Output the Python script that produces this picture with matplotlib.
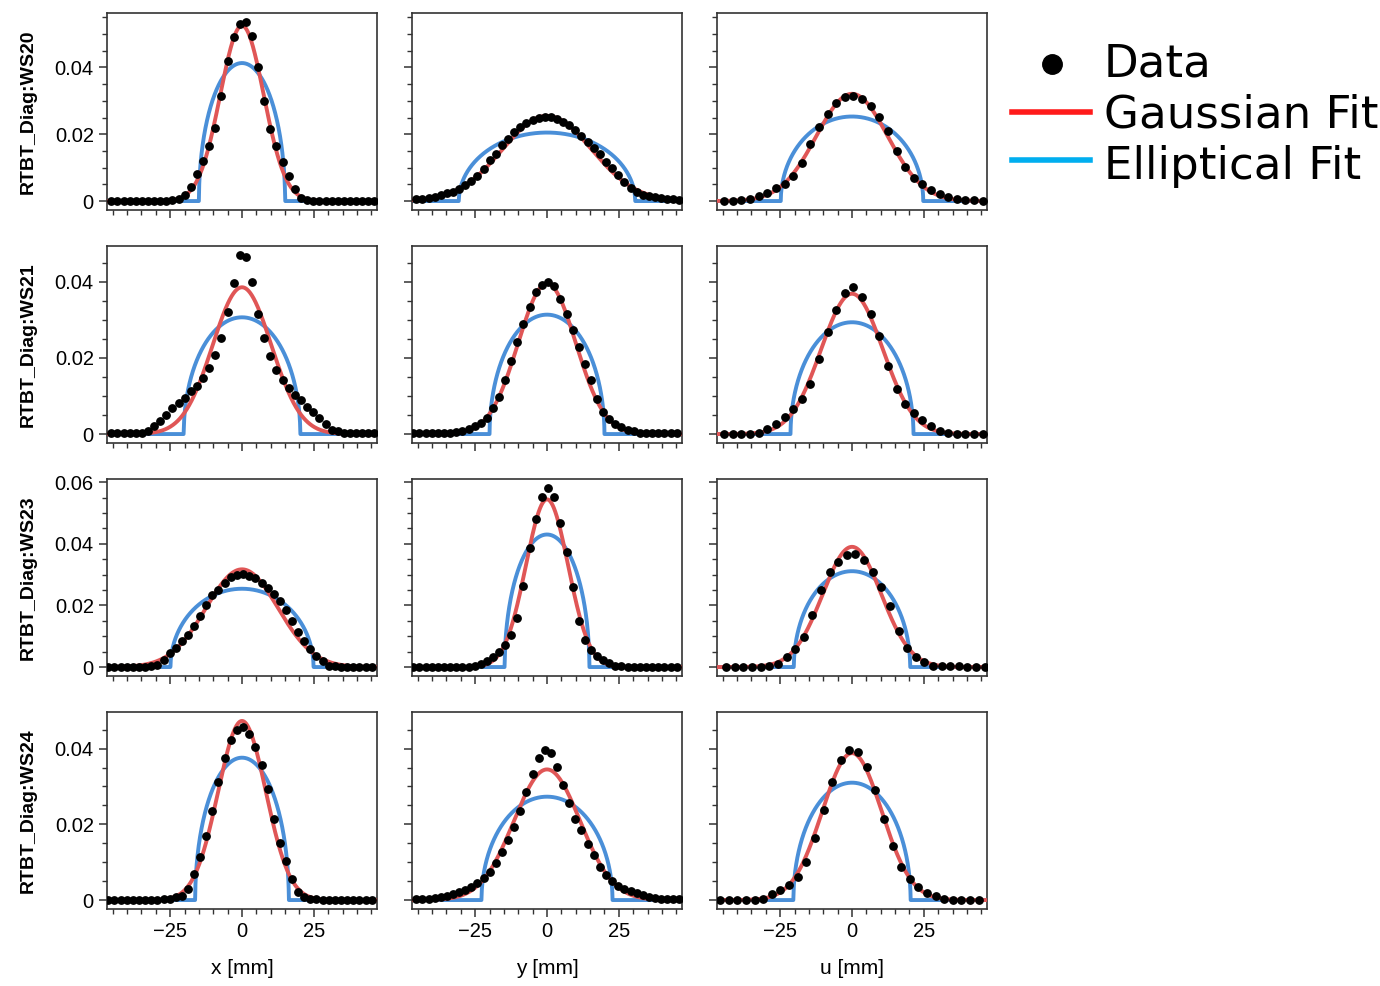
import numpy as np
import matplotlib
matplotlib.use("Agg")
import matplotlib.pyplot as plt
from matplotlib.lines import Line2D
from matplotlib.ticker import MultipleLocator, FuncFormatter

# wire positions [mm] (x/y wires and the diagonal u wire have different steps)
pos_xy_a = [-45.5, -43.4, -41.2, -39.1, -37.0, -34.9, -32.7, -30.6, -28.5, -26.3, -24.2,
            -22.1, -19.9, -17.8, -15.7, -13.6, -11.4, -9.3, -7.2, -5.0, -2.9, -0.8,
            1.4, 3.5, 5.6, 7.8, 9.9, 12.0, 14.1, 16.3, 18.4, 20.5, 22.7, 24.8, 26.9,
            29.1, 31.2, 33.3, 35.4, 37.6, 39.7, 41.8, 44.0, 46.1]
pos_xy_b = [-46.5, -44.4, -42.2, -40.1, -38.0, -35.9, -33.7, -31.6, -29.5, -27.3, -25.2,
            -23.1, -20.9, -18.8, -16.7, -14.6, -12.4, -10.3, -8.2, -6.0, -3.9, -1.8,
            0.4, 2.5, 4.6, 6.8, 8.9, 11.0, 13.1, 15.3, 17.4, 19.5, 21.7, 23.8, 25.9,
            28.1, 30.2, 32.3, 34.4, 36.6, 38.7, 40.8, 43.0, 45.1]
pos_u_a = [-44.5, -41.5, -38.5, -35.5, -32.5, -29.5, -26.5, -23.5, -20.5, -17.5, -14.5,
           -11.5, -8.5, -5.5, -2.5, 0.5, 3.5, 6.5, 9.5, 12.5, 15.5, 18.5, 21.5, 24.5,
           27.5, 30.5, 33.5, 36.5, 39.5, 42.5, 45.5]
pos_u_b = [-43.8, -40.8, -37.8, -34.8, -31.8, -28.8, -25.8, -22.8, -19.8, -16.8, -13.8,
           -10.8, -7.8, -4.8, -1.8, 1.2, 4.2, 7.2, 10.2, 13.2, 16.2, 19.2, 22.2, 25.2,
           28.2, 31.2, 34.2, 37.2, 40.2, 43.2, 46.2]
pos_u_c = [-45.9, -42.9, -39.9, -36.9, -33.9, -30.9, -27.9, -24.9, -21.9, -18.9, -15.9,
           -12.9, -9.9, -6.9, -3.9, -0.9, 2.1, 5.1, 8.1, 11.1, 14.1, 17.1, 20.1, 23.1,
           26.1, 29.1, 32.1, 35.1, 38.1, 41.1, 44.1]

# measured profiles
ws20_x = [0, 0, 0, 0, 0, 0, 0, 0, 0, 0, 0.0002, 0.0005, 0.0017, 0.0041, 0.0081, 0.0121,
          0.0166, 0.0218, 0.0315, 0.0418, 0.0490, 0.0531, 0.0536, 0.0493, 0.0400, 0.0298,
          0.0215, 0.0164, 0.0118, 0.0074, 0.0035, 0.0010, 0.0003, 0, 0, 0, 0, 0, 0, 0,
          0, 0, 0, 0]
ws20_y = [0.0005, 0.0007, 0.0010, 0.0013, 0.0017, 0.0023, 0.0028, 0.0037, 0.0048, 0.0059,
          0.0076, 0.0097, 0.0122, 0.0142, 0.0168, 0.0186, 0.0208, 0.0221, 0.0233, 0.0243,
          0.0250, 0.0253, 0.0252, 0.0246, 0.0237, 0.0228, 0.0213, 0.0195, 0.0176, 0.0160,
          0.0140, 0.0118, 0.0098, 0.0078, 0.0057, 0.0040, 0.0027, 0.0019, 0.0015, 0.0012,
          0.0009, 0.0007, 0.0005, 0.0003]
ws20_u = [0.0001, 0.0001, 0.0003, 0.0007, 0.0015, 0.0025, 0.0038, 0.0051, 0.0075, 0.0113,
          0.0171, 0.0221, 0.0262, 0.0293, 0.0311, 0.0313, 0.0306, 0.0285, 0.0251, 0.0211,
          0.0151, 0.0103, 0.0068, 0.0051, 0.0033, 0.0021, 0.0011, 0.0005, 0.0003, 0.0003,
          0.0001]
ws21_x = [0.0003, 0.0003, 0.0003, 0.0003, 0.0003, 0.0004, 0.0009, 0.0020, 0.0033, 0.0051,
          0.0068, 0.0082, 0.0096, 0.0112, 0.0127, 0.0147, 0.0174, 0.0207, 0.0253, 0.0320,
          0.0396, 0.0471, 0.0465, 0.0401, 0.0317, 0.0253, 0.0204, 0.0168, 0.0141, 0.0121,
          0.0104, 0.0089, 0.0071, 0.0058, 0.0043, 0.0026, 0.0011, 0.0007, 0.0003, 0.0003,
          0.0003, 0.0003, 0.0003, 0.0003]
ws21_y = [0.0003, 0.0003, 0.0003, 0.0003, 0.0003, 0.0004, 0.0004, 0.0006, 0.0009, 0.0013,
          0.0020, 0.0029, 0.0042, 0.0068, 0.0097, 0.0141, 0.0191, 0.0241, 0.0289, 0.0334,
          0.0373, 0.0393, 0.0399, 0.0389, 0.0354, 0.0316, 0.0273, 0.0229, 0.0185, 0.0141,
          0.0092, 0.0057, 0.0039, 0.0027, 0.0018, 0.0011, 0.0007, 0.0004, 0.0003, 0.0003,
          0.0003, 0.0003, 0.0003, 0.0003]
ws21_u = [0, 0.0001, 0.0001, 0.0001, 0.0004, 0.0013, 0.0026, 0.0044, 0.0066, 0.0092,
          0.0132, 0.0197, 0.0268, 0.0327, 0.0371, 0.0387, 0.0361, 0.0317, 0.0259, 0.0180,
          0.0118, 0.0079, 0.0056, 0.0038, 0.0022, 0.0007, 0.0004, 0.0001, 0.0001, 0.0001,
          0.0001]
ws23_x = [0, 0, 0, 0, 0, 0, 0.0001, 0.0002, 0.0008, 0.0024, 0.0046, 0.0063, 0.0083, 0.0105,
          0.0133, 0.0166, 0.0202, 0.0234, 0.0251, 0.0273, 0.0292, 0.0299, 0.0301, 0.0295,
          0.0290, 0.0273, 0.0257, 0.0238, 0.0213, 0.0186, 0.0148, 0.0115, 0.0084, 0.0057,
          0.0035, 0.0020, 0.0005, 0.0002, 0, 0, 0, 0, 0, 0]
ws23_y = [0, 0, 0, 0, 0, 0, 0, 0, 0, 0.0001, 0.0003, 0.0009, 0.0019, 0.0033, 0.0049, 0.0071,
          0.0104, 0.0158, 0.0262, 0.0385, 0.0479, 0.0552, 0.0581, 0.0552, 0.0467, 0.0374,
          0.0259, 0.0149, 0.0087, 0.0055, 0.0035, 0.0022, 0.0013, 0.0005, 0.0002, 0, 0, 0,
          0, 0, 0, 0, 0, 0]
ws23_u = [0, 0, 0, 0, 0, 0.0002, 0.0011, 0.0031, 0.0057, 0.0098, 0.0169, 0.0249, 0.0308,
          0.0341, 0.0364, 0.0366, 0.0346, 0.0308, 0.0260, 0.0197, 0.0118, 0.0063, 0.0033,
          0.0016, 0.0005, 0.0002, 0.0002, 0.0002, 0, 0, 0]
ws24_x = [0.0001, 0.0001, 0.0001, 0.0001, 0.0001, 0.0001, 0.0001, 0.0001, 0.0001, 0.0002,
          0.0003, 0.0007, 0.0011, 0.0028, 0.0069, 0.0115, 0.0168, 0.0235, 0.0312, 0.0376,
          0.0423, 0.0450, 0.0456, 0.0438, 0.0403, 0.0356, 0.0294, 0.0214, 0.0150, 0.0102,
          0.0055, 0.0022, 0.0009, 0.0004, 0.0002, 0.0001, 0.0001, 0.0001, 0.0001, 0.0001,
          0.0001, 0.0001, 0.0001, 0.0001]
ws24_y = [0.0002, 0.0003, 0.0004, 0.0005, 0.0009, 0.0012, 0.0016, 0.0020, 0.0027, 0.0035,
          0.0046, 0.0059, 0.0073, 0.0099, 0.0128, 0.0159, 0.0193, 0.0235, 0.0285, 0.0334,
          0.0376, 0.0396, 0.0389, 0.0352, 0.0305, 0.0255, 0.0215, 0.0184, 0.0148, 0.0118,
          0.0088, 0.0066, 0.0049, 0.0037, 0.0029, 0.0024, 0.0018, 0.0013, 0.0009, 0.0006,
          0.0004, 0.0003, 0.0002, 0.0002]
ws24_u = [0, 0, 0, 0, 0, 0.0004, 0.0016, 0.0027, 0.0040, 0.0062, 0.0100, 0.0164, 0.0237,
          0.0312, 0.0370, 0.0395, 0.0391, 0.0352, 0.0290, 0.0214, 0.0142, 0.0087, 0.0055,
          0.0035, 0.0019, 0.0011, 0.0003, 0, 0, 0, 0]

# fit parameters, row-major (WS20 x,y,u, WS21 x,y,u, ...)
gauss_amp = [0.0525, 0.0255, 0.0321, 0.0386, 0.0396, 0.0369,
             0.0317, 0.0544, 0.0390, 0.0473, 0.0345, 0.0388]
gauss_sigma = [7.55, 15.5, 12.4, 10.2, 10.0, 10.7, 12.5, 7.35, 10.2, 8.3, 11.5, 10.3]
ell_amp = [0.0413, 0.0205, 0.0253, 0.0307, 0.0314, 0.0294,
           0.0254, 0.0430, 0.0311, 0.0376, 0.0273, 0.0310]
ell_radius = [15.0, 30.7, 24.8, 20.3, 20.0, 21.4, 24.9, 14.75, 20.25, 16.3, 22.8, 20.4]

row_names = ["RTBT_Diag:WS20", "RTBT_Diag:WS21", "RTBT_Diag:WS23", "RTBT_Diag:WS24"]
col_labels = ["x [mm]", "y [mm]", "u [mm]"]

profiles = [[ws20_x, ws20_y, ws20_u], [ws21_x, ws21_y, ws21_u],
            [ws23_x, ws23_y, ws23_u], [ws24_x, ws24_y, ws24_u]]
positions = [[pos_xy_a, pos_xy_a, pos_u_a], [pos_xy_a, pos_xy_b, pos_u_a],
             [pos_xy_b, pos_xy_b, pos_u_b], [pos_xy_b, pos_xy_a, pos_u_c]]

RED = "#e05656"
BLUE = "#4a8fd8"
W, H = 1380, 986

plt.rcParams["font.family"] = ["Liberation Sans", "DejaVu Sans"]
fig = plt.figure(figsize=(W / 100, H / 100), dpi=100)

col_left = [107, 412, 717]
row_top = [13, 246, 479, 712]
ax_w, ax_h = 270, 197

xfine = np.linspace(-47, 47, 2000)
fmt = FuncFormatter(lambda v, p: f"{v:g}")

for r in range(4):
    row_axes = []
    for c in range(3):
        rect = [col_left[c] / W, 1 - (row_top[r] + ax_h) / H, ax_w / W, ax_h / H]
        ax = fig.add_axes(rect, sharey=row_axes[0] if row_axes else None)
        row_axes.append(ax)
        i = r * 3 + c

        ell = ell_amp[i] * np.sqrt(np.clip(1 - (xfine / ell_radius[i]) ** 2, 0, None))
        gau = gauss_amp[i] * np.exp(-xfine ** 2 / (2 * gauss_sigma[i] ** 2))
        ax.plot(xfine, ell, color=BLUE, lw=2.8, zorder=2)
        ax.plot(xfine, gau, color=RED, lw=2.8, zorder=3)
        ax.plot(positions[r][c], profiles[r][c], "o", color="black", ms=5.3, zorder=4)

        ax.set_xlim(-47, 47)
        ax.xaxis.set_major_locator(MultipleLocator(25))
        ax.xaxis.set_minor_locator(MultipleLocator(5))
        ax.yaxis.set_major_locator(MultipleLocator(0.02))
        ax.yaxis.set_minor_locator(MultipleLocator(0.005))
        ax.yaxis.set_major_formatter(fmt)
        ax.tick_params(which="major", direction="out", length=6, width=1.1,
                       labelsize=14.5, color="#333333")
        ax.tick_params(which="minor", direction="out", length=3.5, width=1.0,
                       color="#333333")
        for sp in ax.spines.values():
            sp.set_color("#333333")
            sp.set_linewidth(1.2)

        if c > 0:
            ax.tick_params(labelleft=False)
        else:
            ax.set_ylabel(row_names[r], fontsize=14, fontweight="bold")
            ax.yaxis.set_label_coords(-0.262, 0.5)
        if r < 3:
            ax.tick_params(labelbottom=False)
        else:
            ax.set_xlabel(col_labels[c], fontsize=15)
            ax.xaxis.set_label_coords(0.5, -0.255)

# legend drawn in figure pixels
def fx(px):
    return px / W

def fy(py):
    return 1 - py / H

fig.add_artist(Line2D([fx(1052)], [fy(64)], marker="o", color="black", ms=14,
                      transform=fig.transFigure))
fig.add_artist(Line2D([fx(1012), fx(1090)], [fy(112), fy(112)], color="#ff1a1a", lw=4,
                      transform=fig.transFigure))
fig.add_artist(Line2D([fx(1012), fx(1090)], [fy(160), fy(160)], color="#00aeef", lw=4,
                      transform=fig.transFigure))
for label, py in [("Data", 64), ("Gaussian Fit", 115), ("Elliptical Fit", 167)]:
    fig.text(fx(1104), fy(py), label, fontsize=32.5, va="center", ha="left",
             family="DejaVu Sans")

fig.savefig("out.png", dpi=100)
